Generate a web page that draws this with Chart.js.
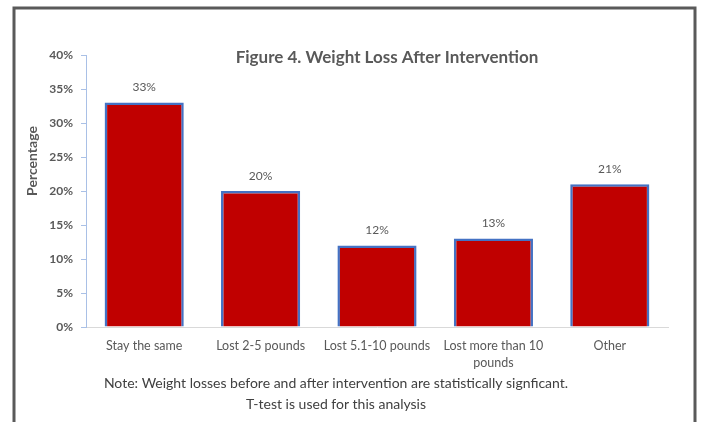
<!DOCTYPE html>
<html>
<head>
<meta charset="utf-8">
<script src="https://cdn.jsdelivr.net/npm/chart.js@4.4.1/dist/chart.umd.min.js"></script>
<style>
  html, body { margin: 0; padding: 0; background: #fff; }
  #wrap { width: 701px; height: 422px; position: relative; }
</style>
</head>
<body>
<div id="wrap"><canvas id="c" width="701" height="422"></canvas></div>
<script>
// Survey outcome categories and the share of respondents in each (percent)
const categories = ['Stay the same', 'Lost 2-5 pounds', 'Lost 5.1-10 pounds', ['Lost more than 10', 'pounds'], 'Other'];
const shares = [33, 20, 12, 13, 21];
const yTicks = [0, 5, 10, 15, 20, 25, 30, 35, 40];

const chartTitle = 'Figure 4. Weight Loss After Intervention';
const yTitle = 'Percentage';
const noteLines = [
  'Note: Weight losses before and after intervention are statistically signficant.',
  'T-test is used for this analysis'
];

const FONT = 'Lato, "Open Sans", sans-serif';
const TEXT = '#595959';

// White background plus the dark frame around the figure
const framePlugin = {
  id: 'frame',
  beforeDraw(chart) {
    const c = chart.ctx;
    c.save();
    c.fillStyle = '#ffffff';
    c.fillRect(0, 0, chart.width, chart.height);
    c.strokeStyle = '#5a5a5a';
    c.lineWidth = 3;
    c.beginPath();
    c.moveTo(14, chart.height);
    c.lineTo(14, 8);
    c.lineTo(695, 8);
    c.lineTo(695, chart.height);
    c.stroke();
    c.restore();
  }
};

// Value labels above each bar, title, axis title and footnote
const annotatePlugin = {
  id: 'annotate',
  afterDatasetsDraw(chart) {
    const c = chart.ctx;
    const meta = chart.getDatasetMeta(0);
    c.save();
    c.fillStyle = TEXT;
    c.font = '12px ' + FONT;
    c.textAlign = 'center';
    c.textBaseline = 'middle';
    meta.data.forEach((bar, i) => {
      c.fillText(shares[i] + '%', bar.x, bar.y - 15);
    });
    c.restore();
  },
  afterDraw(chart) {
    const c = chart.ctx;
    const a = chart.chartArea;
    c.save();
    // chart title
    c.fillStyle = TEXT;
    c.font = 'bold 17px ' + FONT;
    c.textAlign = 'center';
    c.textBaseline = 'middle';
    c.fillText(chartTitle, (a.left + a.right) / 2 + 10, a.top + 3);
    // y-axis title
    c.font = 'bold 14px ' + FONT;
    c.translate(a.left - 54, a.top + 106);
    c.rotate(-Math.PI / 2);
    c.fillText(yTitle, 0, 0);
    c.restore();
    // footnote
    c.save();
    c.fillStyle = '#404040';
    c.font = '14px ' + FONT;
    c.textAlign = 'center';
    c.textBaseline = 'middle';
    const cx = a.left + 250;
    c.fillText(noteLines[0], cx, a.bottom + 56);
    c.fillText(noteLines[1], cx, a.bottom + 77);
    c.restore();
  }
};

new Chart(document.getElementById('c'), {
  type: 'bar',
  data: {
    labels: categories,
    datasets: [{
      data: shares,
      backgroundColor: '#c00000',
      borderColor: '#4472c4',
      borderWidth: 2.5,
      barPercentage: 0.68,
      categoryPercentage: 1
    }]
  },
  options: {
    responsive: false,
    animation: false,
    events: [],
    layout: { padding: { left: 0, right: 33, top: 55, bottom: 0 } },
    plugins: {
      legend: { display: false },
      tooltip: { enabled: false },
      title: { display: false }
    },
    scales: {
      x: {
        grid: { display: true, drawOnChartArea: false, drawTicks: false },
        border: { color: '#d9d9d9', width: 1 },
        ticks: {
          color: TEXT,
          font: { family: FONT, size: 12.5, lineHeight: 1.35 },
          padding: 11,
          maxRotation: 0,
          autoSkip: false
        },
        afterFit(scale) { scale.height = 95; }
      },
      y: {
        min: 0,
        max: 40,
        afterBuildTicks(scale) { scale.ticks = yTicks.map(v => ({ value: v })); },
        grid: { display: true, drawOnChartArea: false, drawTicks: true, tickLength: 5, color: '#a9c0e6' },
        border: { color: '#a9c0e6', width: 1 },
        ticks: {
          color: TEXT,
          font: { family: FONT, size: 12, weight: 'bold' },
          padding: 8,
          callback: v => v + '%'
        },
        afterFit(scale) { scale.width = 86; }
      }
    }
  },
  plugins: [framePlugin, annotatePlugin]
});
</script>
</body>
</html>
